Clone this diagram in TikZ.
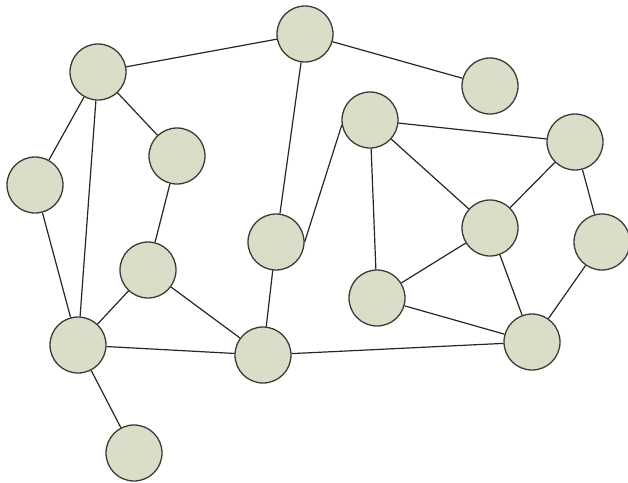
\documentclass[tikz,border=0pt]{standalone}
\usepackage{tikz}
\definecolor{mysage}{RGB}{220, 221, 201}
\definecolor{myrim}{RGB}{60, 60, 55}
\tikzset{every picture/.style={line width=1.2pt}}
\tikzset{vertex/.style={circle, draw=myrim, fill=mysage, line width=1.3pt, minimum size=56pt, inner sep=0pt}}
\tikzset{link/.style={draw=black!85, line width=1.2pt}}
\begin{document}
\begin{tikzpicture}[x=1pt,y=1pt,yscale=-1,xscale=1]
\useasboundingbox (0,0) rectangle (628,482);

%Vertices
\node [vertex] (a) at (98,72) {};
\node [vertex] (b) at (305,34) {};
\node [vertex] (c) at (490,86) {};
\node [vertex] (d) at (177,156) {};
\node [vertex] (e) at (35,185) {};
\node [vertex] (f) at (370,120) {};
\node [vertex] (g) at (575,142) {};
\node [vertex] (h) at (490,228) {};
\node [vertex] (i) at (602,242) {};
\node [vertex] (j) at (276,242) {};
\node [vertex] (k) at (148,270) {};
\node [vertex] (l) at (377,298) {};
\node [vertex] (m) at (78,345) {};
\node [vertex] (n) at (263,355) {};
\node [vertex] (o) at (532,342) {};
\node [vertex] (p) at (134,453) {};

%Edges
\begin{scope}[on background layer/.try]
\foreach \u/\v in {a/b, b/c, b/j, a/e, a/m, a/d, e/m, d/k, k/m, k/n, j/n,
  f/l, f/h, f/g, g/h, g/i, h/l, h/o, l/o, i/o, m/n, n/o, m/p}
  \draw [link] (\u) -- (\v);
%this one runs side to side
\draw [link] (j.east) -- (f.190);
\end{scope}
\end{tikzpicture}
\end{document}
